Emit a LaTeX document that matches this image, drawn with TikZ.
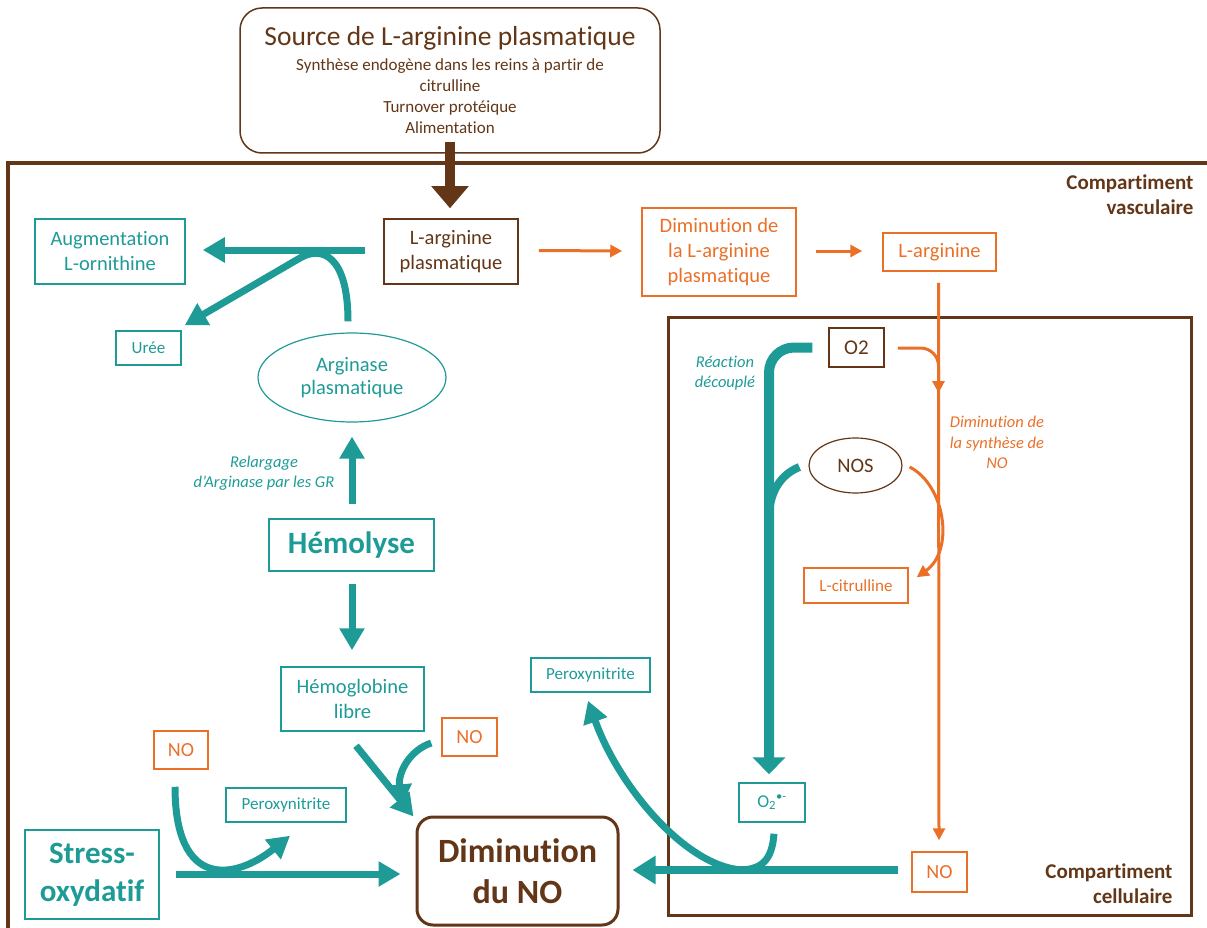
\documentclass[tikz,border=0pt]{standalone}
\usepackage{fontspec}
\setmainfont{Carlito}[Ligatures={NoCommon,NoContextual}]
\usetikzlibrary{arrows.meta,calc,shapes.geometric}
\definecolor{cteal}{RGB}{30,155,150}
\definecolor{cbrown}{RGB}{98,54,22}
\definecolor{corange}{RGB}{234,112,40}
\begin{document}
\begin{tikzpicture}[x=1pt,y=-1pt,
 box/.style={rectangle, inner sep=0pt, align=center, line width=1.5pt},
 tbox/.style={box, draw=cteal, text=cteal},
 bbox/.style={box, draw=cbrown, text=cbrown},
 obox/.style={box, draw=corange, text=corange},
 fL/.style={font=\fontsize{20.5}{25}\selectfont},
 fS/.style={font=\fontsize{17}{20.5}\selectfont},
 fN/.style={font=\fontsize{20}{24}\selectfont},
 fI/.style={font=\fontsize{16.5}{20.5}\selectfont\itshape},
 fB/.style={font=\fontsize{31}{38}\selectfont\bfseries},
 fC/.style={font=\fontsize{21}{25}\selectfont\bfseries},
 tar/.style={draw=cteal, line width=7pt, -{Triangle[length=22pt,width=24pt]}},
 tline/.style={draw=cteal, line width=7pt},
 oar/.style={draw=corange, line width=3pt, -{Triangle[length=12pt,width=12pt]}},
]
\useasboundingbox (0,0) rectangle (1207,928);

% compartments
\draw[cbrown, line width=4pt] (8,930) -- (8,163) -- (1210,163);
\draw[cbrown, line width=3pt] (668,317) rectangle (1191,915);
\node[fC, text=cbrown, anchor=east, align=right] (vasc) at (1197,194.5) {Compartiment\\vasculaire};
\node[fC, text=cbrown, anchor=east, align=right] (cell) at (1176,883.5) {Compartiment\\cellulaire};

% source
\node[bbox, rounded corners=22pt, minimum width=420pt, minimum height=145pt] (src) at (450,80.5) {};
\node[text=cbrown, font=\fontsize{27.5}{33}\selectfont] (srcT) at (450,38) {Source de L-arginine plasmatique};
\node[text=cbrown, align=center, font=\fontsize{17}{21}\selectfont] (srcS) at (450,96.5) {Synthèse endogène dans les reins à partir de\\citrulline\\Turnover protéique\\Alimentation};

% vascular nodes
\node[bbox, fL, minimum width=134pt, minimum height=65pt] (larg) at (451,251.5) {L-arginine\\plasmatique};
\node[tbox, fL, minimum width=150pt, minimum height=65pt] (aug) at (110,251.5) {Augmentation\\L-ornithine};
\node[tbox, fS, minimum width=65pt, minimum height=34pt] (uree) at (148.5,348) {Urée};
\node[ellipse, draw=cteal, line width=1.2pt, text=cteal, align=center, inner sep=0pt, minimum width=188pt, minimum height=89pt, font=\fontsize{20.5}{23.5}\selectfont] (argin) at (352,377.5) {Arginase\\plasmatique};
\node[text=cteal, fI, align=center] (relarg) at (264,473) {Relargage\\d’Arginase par les GR};
\node[tbox, line width=2.5pt, fB, minimum width=165pt, minimum height=52pt] (hemol) at (351.5,545) {Hémolyse};
\node[tbox, fL, minimum width=143pt, minimum height=64pt] (hemog) at (352.5,699) {Hémoglobine\\libre};
\node[obox, fN, minimum width=54pt, minimum height=38pt] (noL) at (181,750) {NO};
\node[obox, fN, minimum width=55pt, minimum height=38pt] (noM) at (469.5,737) {NO};
\node[tbox, fS, minimum width=120pt, minimum height=34pt] (peroxB) at (286,805) {Peroxynitrite};
\node[tbox, fS, minimum width=119pt, minimum height=34pt] (peroxT) at (590.5,675) {Peroxynitrite};
\node[tbox, line width=2.5pt, fB, minimum width=134pt, minimum height=89pt] (stress) at (92,874.5) {Stress-\\oxydatif};
\node[bbox, line width=3pt, rounded corners=16pt, font=\fontsize{34}{41}\selectfont\bfseries, minimum width=201pt, minimum height=108pt] (dimNO) at (517.5,871) {Diminution\\du NO};
\node[obox, fL, minimum width=154pt, minimum height=88pt] (dimL) at (719,252) {Diminution de\\la L-arginine\\plasmatique};
\node[obox, fL, minimum width=113pt, minimum height=38pt] (largO) at (939.5,252) {L-arginine};

% cellular nodes
\node[bbox, font=\fontsize{21}{25}\selectfont, minimum width=55pt, minimum height=39pt] (o2) at (856.5,347.5) {O2};
\node[ellipse, draw=cbrown, line width=1.2pt, text=cbrown, fL, inner sep=0pt, minimum width=93pt, minimum height=55pt] (nos) at (855.5,465.5) {NOS};
\node[obox, fS, minimum width=104pt, minimum height=35pt] (lcit) at (856,585.5) {L-citrulline};
\node[tbox, font=\fontsize{18}{22}\selectfont, minimum width=66pt, minimum height=39pt] (o2r) at (772,802.5) {O\textsubscript{2}\textsuperscript{•-}};
\node[obox, fN, minimum width=55pt, minimum height=40pt] (noR) at (939.5,872) {NO};
\node[text=cteal, fI, align=center] (reac) at (725,373) {Réaction\\découplé};
\node[text=corange, fI, align=center] (dimsyn) at (997,442.5) {Diminution de\\la synthèse de\\NO};

\coordinate (j1) at (738,870);
\coordinate (j2) at (745,870);
\coordinate (j3) at (769,515);
\coordinate (j4) at (938.5,393);

% brown source arrow
\draw[cbrown, line width=10pt, -{Triangle[length=22pt,width=36pt]}] ($(src.south)+(0,-12)$) -- ($(larg.north)+(-1,-10)$);

% teal connectors
\draw[tar] ($(larg.west)+(-18,-1.5)$) -- ($(aug.east)+(17,-1.5)$);
\draw[tar] ($(argin.north)+(-4,-11)$) .. controls (348,255) and (321.5,245.5) .. (300,258) -- ($(uree.north east)+(3,-5)$);
\draw[tar] ($(hemol.north)+(0.5,-14)$) -- ($(argin.south)+(0,14)$);
\draw[tar] ($(hemol.south)+(0.5,12)$) -- ($(hemog.north)+(-0.5,-16)$);
\draw[tar] ($(hemog.south)+(3.5,14)$) -- ($(dimNO.north west)+(-2,1)$);
\draw[tar] ($(noM.west)+(-10,6)$) .. controls (410,750) and (398,772) .. ($(dimNO.north west)+(-14,-9)$);
\draw[tar] ($(noL.south)+(-6,17)$) .. controls (175,890) and (235,880) .. ($(peroxB.south)+(4,13)$);
\draw[tar] ($(stress.east)+(16,-0.5)$) -- ($(dimNO.west)+(-15,3)$);
\draw[tar, line width=8pt, -{Triangle[length=23pt,width=27pt]}] ($(noR.west)+(-13,-2)$) -- ($(dimNO.east)+(13,-1)$);
\draw[tline] ($(o2r.south)+(2,11)$) .. controls (772,860) and (762,870) .. (j1);
\draw[tar] (j2) .. controls (690,870) and (620,790) .. ($(peroxT.south)+(-2.5,8)$);
\draw[cteal, line width=10pt, rounded corners=25pt, -{Triangle[length=17pt,width=32pt]}] ($(o2.west)+(-16,0)$) -| ($(o2r.north)+(-3,-8)$);
\draw[tline, line width=8pt] ($(nos.west)+(-9,1.5)$) .. controls (782,474) and (770,490) .. (j3);

% orange connectors
\draw[oar] ($(larg.east)+(20,-1)$) -- ($(dimL.west)+(-19,-1)$);
\draw[oar] ($(dimL.east)+(19,-1)$) -- ($(largO.west)+(-20,-1)$);
\draw[oar] ($(largO.south)+(-1,11)$) -- ($(noR.north)+(-0.5,-11)$);
\draw[oar, rounded corners=18pt] ($(o2.east)+(13,0.5)$) -| (j4);
\draw[oar] ($(nos.east)+(7,1.5)$) .. controls (945,485) and (955,550) .. ($(lcit.north east)+(8,10)$);
\end{tikzpicture}
\end{document}
